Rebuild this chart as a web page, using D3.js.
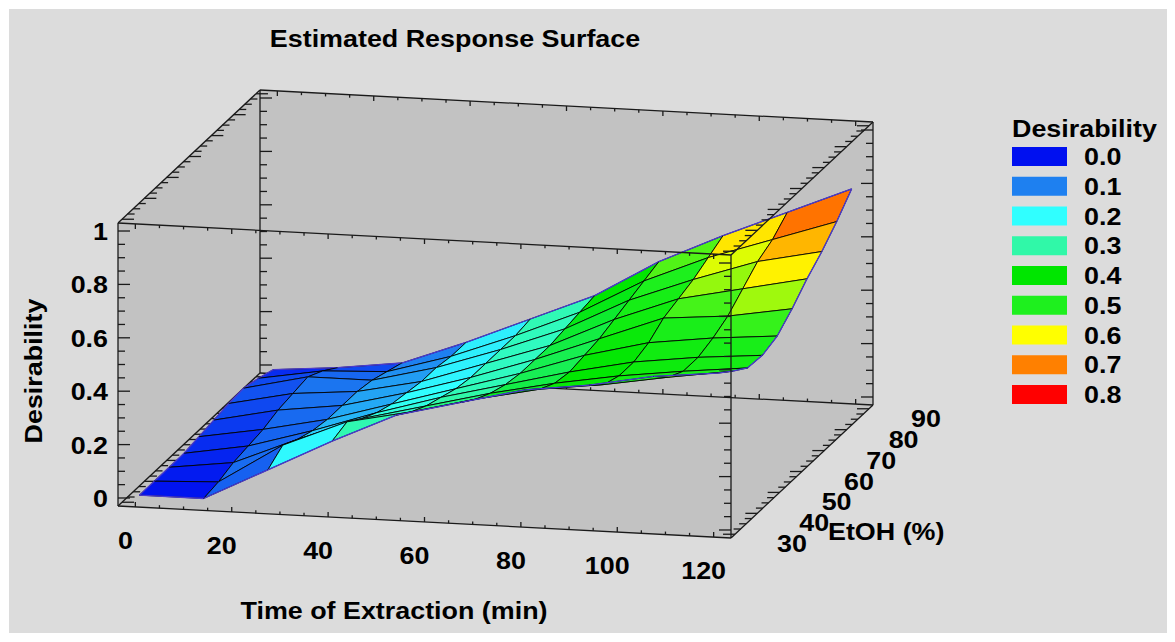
<!DOCTYPE html>
<html><head><meta charset="utf-8">
<script src="https://cdn.jsdelivr.net/npm/d3@7"></script>
<style>
html,body{margin:0;padding:0;background:#ffffff;}
svg{display:block;}
text{font-family:"Liberation Sans",Arial,Helvetica,sans-serif;font-weight:bold;fill:#000;}
</style>
</head><body>
<svg id="chart" width="1175" height="642"></svg>
<script>
// ---------------- data ----------------
const chartTitle = "Estimated Response Surface";
const xTitle = "Time of Extraction (min)";
const yTitle = "EtOH (%)";
const zTitle = "Desirability";

const timeTicks = [0, 20, 40, 60, 80, 100, 120];
const etohTicks = [30, 40, 50, 60, 70, 80, 90];
const zTicks = [0, 0.2, 0.4, 0.6, 0.8, 1];
const zTickLabels = ["0", "0.2", "0.4", "0.6", "0.8", "1"];

const legendLevels = [0, 0.1, 0.2, 0.3, 0.4, 0.5, 0.6, 0.7, 0.8];
const legendLabels = ["0.0", "0.1", "0.2", "0.3", "0.4", "0.5", "0.6", "0.7", "0.8"];
const legendColors = ["#0010f0", "#1e80f0", "#30ffff", "#30f8a8", "#00e600", "#1ef01e", "#ffff00", "#ff8000", "#ff0000"];

// surface grid (time in min, EtOH in %)
const timeGrid = [0, 13.33, 26.67, 40, 53.33, 66.67, 80, 93.33, 106.67, 120];
const etohGrid = [30, 36.67, 43.33, 50, 56.67, 63.33, 70, 76.67, 83.33, 90];
// desirability[i][k] : time index i, EtOH index k
const desirability = [
  [0.00, 0.00, 0.00, 0.00, 0.01, 0.02, 0.03, 0.035, 0.02, 0.00],
  [0.00, 0.01, 0.03, 0.04, 0.05, 0.07, 0.08, 0.09, 0.06, 0.02],
  [0.12, 0.16, 0.13, 0.11, 0.10, 0.10, 0.10, 0.09, 0.07, 0.05],
  [0.24, 0.26, 0.22, 0.19, 0.17, 0.16, 0.15, 0.15, 0.14, 0.14],
  [0.35, 0.31, 0.28, 0.26, 0.24, 0.23, 0.23, 0.23, 0.23, 0.24],
  [0.41, 0.37, 0.34, 0.32, 0.31, 0.31, 0.31, 0.32, 0.33, 0.34],
  [0.47, 0.42, 0.39, 0.38, 0.39, 0.40, 0.42, 0.44, 0.46, 0.48],
  [0.50, 0.45, 0.43, 0.43, 0.45, 0.49, 0.51, 0.53, 0.56, 0.59],
  [0.545, 0.49, 0.46, 0.46, 0.48, 0.51, 0.56, 0.61, 0.64, 0.69],
  [0.57, 0.525, 0.485, 0.48, 0.50, 0.55, 0.61, 0.66, 0.72, 0.79]
];

// ---------------- scales & projection ----------------
const svg = d3.select("#chart");
const tDom = [-3.6, 123.6], eDom = [28.2, 91.8], zDom = [-0.03, 1.03];
const tS = d3.scaleLinear().domain(tDom).range([0, 1]);
const eS = d3.scaleLinear().domain(eDom).range([0, 1]);
const zS = d3.scaleLinear().domain(zDom).range([0, 1]);
const O = [118, 506], U = [613, 32], V = [142, -133], H = 283;
function proj(t, e, z) {
  const u = tS(t), v = eS(e), w = zS(z);
  return [O[0] + u * U[0] + v * V[0], O[1] + u * U[1] + v * V[1] - w * H];
}
const color = d3.scaleLinear().domain(legendLevels).range(legendColors)
  .interpolate(d3.interpolateRgb).clamp(true);

const SX = 1.12; // horizontal stretch of glyphs
function txt(g, x, y, s, anchor, size, rot) {
  return g.append("text")
    .attr("transform", `translate(${x},${y}) rotate(${rot || 0}) scale(${SX},1)`)
    .attr("text-anchor", anchor || "start")
    .style("font-size", (size || 24) + "px")
    .text(s);
}

// background panel
svg.append("rect").attr("x", 9).attr("y", 9).attr("width", 1158).attr("height", 624).attr("fill", "#dcdcdc");

// box silhouette
const c = {
  flb: proj(tDom[0], eDom[0], zDom[0]), frb: proj(tDom[1], eDom[0], zDom[0]),
  blb: proj(tDom[0], eDom[1], zDom[0]), brb: proj(tDom[1], eDom[1], zDom[0]),
  flt: proj(tDom[0], eDom[0], zDom[1]), frt: proj(tDom[1], eDom[0], zDom[1]),
  blt: proj(tDom[0], eDom[1], zDom[1]), brt: proj(tDom[1], eDom[1], zDom[1])
};
svg.append("polygon")
  .attr("points", [c.flb, c.frb, c.brb, c.brt, c.blt, c.flt].map(p => p.join(",")).join(" "))
  .attr("fill", "#c2c2c2");

const back = svg.append("g").attr("stroke", "#1a1a1a").attr("stroke-width", 1.3).attr("fill", "none");
const surf = svg.append("g");
const front = svg.append("g").attr("stroke", "#1a1a1a").attr("stroke-width", 1.3).attr("fill", "none");

function seg(g, a, b) { g.append("line").attr("x1", a[0]).attr("y1", a[1]).attr("x2", b[0]).attr("y2", b[1]); }

const near = (a, b) => Math.abs(a - b) < 1e-6;
const zMinor = d3.range(0, 1.0001, 0.05);
const eMinor = d3.range(30, 90.001, 2.5);
const tMinor = d3.range(0, 120.001, 5);

function zEdgeTicks(g, t, e, dir) {
  zMinor.forEach(z => {
    const major = zTicks.some(m => near(m, z));
    const p = proj(t, e, z);
    seg(g, p, [p[0] + dir * (major ? 12 : 7), p[1]]);
  });
}
function eEdgeTicks(g, t, z, dir) {
  eMinor.forEach(e => {
    const major = etohTicks.some(m => near(m, e));
    const p = proj(t, e, z);
    seg(g, p, [p[0] + dir * (major ? 12 : 7), p[1]]);
  });
}
function tEdgeTicks(g, e, z, dir) {
  tMinor.forEach(t => {
    const major = timeTicks.some(m => near(m, t));
    const p = proj(t, e, z);
    seg(g, p, [p[0], p[1] + dir * (major ? 5 : 3)]);
  });
}

// back edges
seg(back, c.blb, c.blt); zEdgeTicks(back, tDom[0], eDom[1], 1);
seg(back, c.brb, c.brt); zEdgeTicks(back, tDom[1], eDom[1], -1);
seg(back, c.blt, c.brt); tEdgeTicks(back, eDom[1], zDom[1], 1);
seg(back, c.blb, c.brb); tEdgeTicks(back, eDom[1], zDom[0], -1);
seg(back, c.flt, c.blt); eEdgeTicks(back, tDom[0], zDom[1], 1);
seg(back, c.flb, c.blb); eEdgeTicks(back, tDom[0], zDom[0], 1);

// surface cells, painted far to near
const cells = [];
for (let i = 0; i < timeGrid.length - 1; i++) {
  for (let k = 0; k < etohGrid.length - 1; k++) {
    const corners = [[i, k], [i + 1, k], [i + 1, k + 1], [i, k + 1]];
    const zs = corners.map(([a, b]) => desirability[a][b]);
    const tc = (timeGrid[i] + timeGrid[i + 1]) / 2, ec = (etohGrid[k] + etohGrid[k + 1]) / 2;
    cells.push({
      i, k,
      pts: corners.map(([a, b]) => proj(timeGrid[a], etohGrid[b], desirability[a][b])),
      val: d3.mean(zs),
      depth: proj(tc, ec, zDom[0])[1]
    });
  }
}
cells.sort((a, b) => a.depth - b.depth);
const nI = timeGrid.length - 1, nK = etohGrid.length - 1;
cells.forEach(cl => {
  surf.append("polygon")
    .attr("points", cl.pts.map(p => p.join(",")).join(" "))
    .attr("fill", color(cl.val))
    .attr("stroke", "#000").attr("stroke-opacity", 0.85).attr("stroke-width", 1)
    .attr("stroke-linejoin", "round");
  const edges = [];
  if (cl.k === 0) edges.push([cl.pts[0], cl.pts[1]]);
  if (cl.k === nK - 1) edges.push([cl.pts[3], cl.pts[2]]);
  if (cl.i === 0) edges.push([cl.pts[0], cl.pts[3]]);
  if (cl.i === nI - 1) edges.push([cl.pts[1], cl.pts[2]]);
  edges.forEach(([a, b]) => surf.append("line")
    .attr("x1", a[0]).attr("y1", a[1]).attr("x2", b[0]).attr("y2", b[1])
    .attr("stroke", "#4a3ad0").attr("stroke-width", 1.3));
});

// front edges
seg(front, c.flb, c.flt); zEdgeTicks(front, tDom[0], eDom[0], 1);
seg(front, c.frb, c.frt); zEdgeTicks(front, tDom[1], eDom[0], -1);
seg(front, c.flt, c.frt); tEdgeTicks(front, eDom[0], zDom[1], 1);
seg(front, c.flb, c.frb); tEdgeTicks(front, eDom[0], zDom[0], -1);
seg(front, c.frt, c.brt); eEdgeTicks(front, tDom[1], zDom[1], -1);
seg(front, c.frb, c.brb); eEdgeTicks(front, tDom[1], zDom[0], -1);

// ---------------- labels ----------------
const lab = svg.append("g");
txt(lab, 455, 47, chartTitle, "middle", 24);

zTicks.forEach((z, idx) => {
  const p = proj(tDom[0], eDom[0], z);
  txt(lab, p[0] - 10, p[1] + 9, zTickLabels[idx], "end", 24);
});
timeTicks.forEach(t => {
  const p = proj(t, eDom[0], zDom[0]);
  txt(lab, p[0] - 10, p[1] + 42, String(t), "middle", 24);
});
etohTicks.forEach(e => {
  const p = proj(tDom[1], e, zDom[0]);
  txt(lab, p[0] + 42, p[1] + 18, String(e), "start", 24);
});
txt(lab, 394, 619, xTitle, "middle", 24);
txt(lab, 828, 540, yTitle, "start", 24);
txt(lab, 42, 371, zTitle, "middle", 24, -90);

// ---------------- legend ----------------
const leg = svg.append("g");
txt(leg, 1012, 137, "Desirability", "start", 24);
legendLevels.forEach((lv, idx) => {
  const y = 147 + idx * 29.75;
  leg.append("rect").attr("x", 1012).attr("y", y).attr("width", 55).attr("height", 19)
    .attr("fill", color(lv));
  txt(leg, 1084, y + 18, legendLabels[idx], "start", 24);
});
</script>
</body></html>
